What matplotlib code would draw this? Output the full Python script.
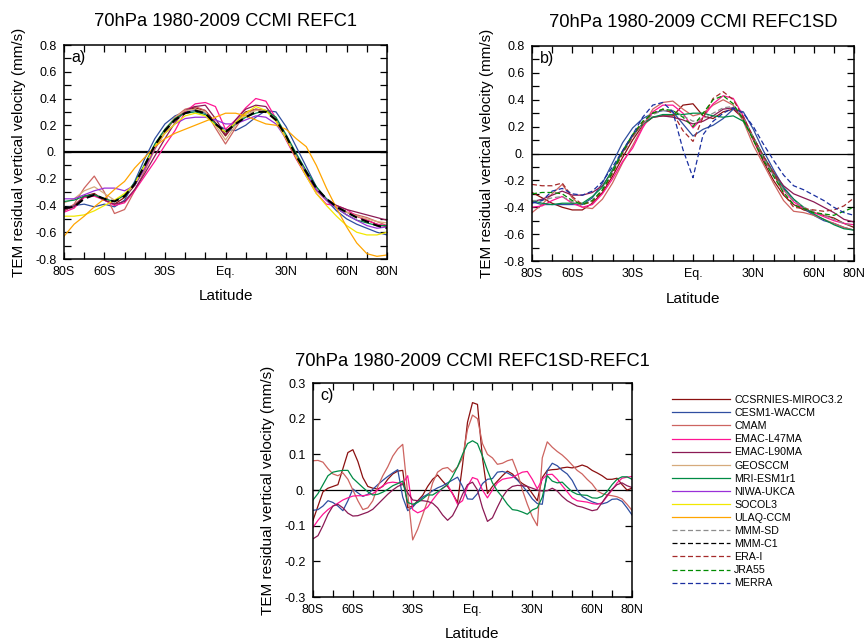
import numpy as np
import matplotlib
matplotlib.use('Agg')
import matplotlib.pyplot as plt
from matplotlib.ticker import MultipleLocator, FixedLocator, FixedFormatter
from matplotlib.lines import Line2D

plt.rcParams['font.family'] = ['Liberation Sans', 'DejaVu Sans']

# ---------------- data ----------------
lat5 = list(range(-80, 81, 5))                 # 5 degree grid (panels a, b)
lat25 = [v / 2 for v in range(-160, 161, 5)]   # 2.5 degree grid (panel c)

xtick_pos = [-80, -60, -30, 0, 30, 60, 80]
xtick_labels = ['80S', '60S', '30S', 'Eq.', '30N', '60N', '80N']
ytick_ab = [0.8, 0.6, 0.4, 0.2, 0.0, -0.2, -0.4, -0.6, -0.8]
ytick_ab_labels = ['0.8', '0.6', '0.4', '0.2', '0.', '-0.2', '-0.4', '-0.6', '-0.8']
ytick_c = [0.3, 0.2, 0.1, 0.0, -0.1, -0.2, -0.3]
ytick_c_labels = ['0.3', '0.2', '0.1', '0.', '-0.1', '-0.2', '-0.3']

titles = ['70hPa 1980-2009 CCMI REFC1', '70hPa 1980-2009 CCMI REFC1SD',
          '70hPa 1980-2009 CCMI REFC1SD-REFC1']
panel_tags = ['a)', 'b)', 'c)']
ylabel = 'TEM residual vertical velocity (mm/s)'
xlabel = 'Latitude'

legend_names = ['CCSRNIES-MIROC3.2', 'CESM1-WACCM', 'CMAM', 'EMAC-L47MA', 'EMAC-L90MA',
                'GEOSCCM', 'MRI-ESM1r1', 'NIWA-UKCA', 'SOCOL3', 'ULAQ-CCM',
                'MMM-SD', 'MMM-C1', 'ERA-I', 'JRA55', 'MERRA']

# Panel a: REFC1 (5 deg grid, 80S..80N)
a_ccsrnies = [-0.44, -0.40, -0.33, -0.31, -0.36, -0.39, -0.34, -0.25, -0.12,
              0.03, 0.15, 0.25, 0.31, 0.33, 0.31, 0.22, 0.12,
              0.22, 0.30, 0.32, 0.31, 0.24, 0.10, -0.04, -0.17,
              -0.28, -0.36, -0.41, -0.45, -0.48, -0.51, -0.54, -0.56]
a_cesm = [-0.42, -0.40, -0.39, -0.41, -0.39, -0.41, -0.36, -0.22, -0.05,
          0.10, 0.21, 0.27, 0.30, 0.31, 0.29, 0.21, 0.17,
          0.16, 0.20, 0.26, 0.31, 0.30, 0.19, 0.04, -0.11,
          -0.26, -0.36, -0.44, -0.50, -0.54, -0.57, -0.60, -0.62]
a_cmam = [-0.44, -0.39, -0.27, -0.18, -0.30, -0.46, -0.43, -0.29, -0.14,
          0.02, 0.15, 0.26, 0.32, 0.34, 0.31, 0.18, 0.06,
          0.18, 0.29, 0.32, 0.31, 0.24, 0.10, -0.05, -0.18,
          -0.29, -0.36, -0.41, -0.45, -0.47, -0.49, -0.52, -0.55]
a_emac47 = [-0.45, -0.42, -0.34, -0.33, -0.36, -0.40, -0.38, -0.29, -0.18,
            -0.07, 0.05, 0.16, 0.30, 0.36, 0.37, 0.34, 0.17,
            0.24, 0.33, 0.40, 0.38, 0.25, 0.09, -0.05, -0.18,
            -0.31, -0.39, -0.40, -0.43, -0.48, -0.51, -0.54, -0.55]
a_emac90 = [-0.43, -0.41, -0.33, -0.32, -0.36, -0.39, -0.37, -0.28, -0.16,
            -0.03, 0.10, 0.22, 0.31, 0.34, 0.35, 0.25, 0.13,
            0.24, 0.32, 0.35, 0.34, 0.24, 0.10, -0.04, -0.17,
            -0.28, -0.35, -0.40, -0.43, -0.45, -0.47, -0.49, -0.51]
a_geos = [-0.38, -0.35, -0.29, -0.26, -0.31, -0.36, -0.33, -0.24, -0.10,
          0.05, 0.17, 0.26, 0.31, 0.32, 0.30, 0.20, 0.09,
          0.20, 0.28, 0.31, 0.31, 0.25, 0.12, -0.02, -0.15,
          -0.27, -0.35, -0.41, -0.45, -0.48, -0.50, -0.52, -0.53]
a_mri = [-0.37, -0.36, -0.33, -0.32, -0.35, -0.37, -0.32, -0.23, -0.09,
         0.06, 0.17, 0.25, 0.29, 0.30, 0.28, 0.21, 0.15,
         0.21, 0.26, 0.29, 0.31, 0.26, 0.13, -0.01, -0.14,
         -0.26, -0.35, -0.42, -0.47, -0.51, -0.53, -0.55, -0.55]
a_niwa = [-0.35, -0.35, -0.32, -0.29, -0.27, -0.27, -0.29, -0.25, -0.12,
          0.03, 0.14, 0.21, 0.25, 0.26, 0.26, 0.24, 0.21,
          0.21, 0.24, 0.27, 0.26, 0.21, 0.10, -0.03, -0.16,
          -0.28, -0.36, -0.42, -0.47, -0.51, -0.55, -0.57, -0.56]
a_socol = [-0.48, -0.48, -0.47, -0.44, -0.40, -0.36, -0.31, -0.24, -0.10,
           0.04, 0.14, 0.21, 0.27, 0.29, 0.27, 0.20, 0.15,
           0.22, 0.29, 0.34, 0.31, 0.23, 0.10, -0.04, -0.18,
           -0.31, -0.40, -0.48, -0.55, -0.60, -0.62, -0.62, -0.60]
a_ulaq = [-0.63, -0.54, -0.48, -0.41, -0.35, -0.28, -0.22, -0.12, -0.04,
          0.04, 0.10, 0.14, 0.17, 0.20, 0.23, 0.26, 0.29,
          0.29, 0.27, 0.24, 0.21, 0.20, 0.17, 0.10, 0.04,
          -0.10, -0.27, -0.42, -0.56, -0.68, -0.76, -0.78, -0.77]
a_mmm_c1 = [-0.42, -0.41, -0.35, -0.32, -0.35, -0.37, -0.33, -0.24, -0.10,
            0.05, 0.16, 0.24, 0.29, 0.31, 0.29, 0.21, 0.15,
            0.21, 0.26, 0.30, 0.30, 0.24, 0.12, -0.03, -0.15,
            -0.27, -0.35, -0.41, -0.45, -0.49, -0.52, -0.55, -0.57]

# Panel b: REFC1SD (5 deg grid)
b_ccsrnies = [-0.29, -0.33, -0.37, -0.40, -0.42, -0.42, -0.37, -0.29, -0.17,
              -0.03, 0.10, 0.21, 0.27, 0.28, 0.28, 0.36, 0.37,
              0.28, 0.26, 0.31, 0.33, 0.26, 0.10, -0.06, -0.20,
              -0.31, -0.38, -0.42, -0.44, -0.46, -0.48, -0.52, -0.55]
b_cesm = [-0.36, -0.38, -0.38, -0.38, -0.38, -0.38, -0.33, -0.22, -0.07,
          0.08, 0.19, 0.26, 0.30, 0.32, 0.31, 0.22, 0.13,
          0.18, 0.21, 0.26, 0.33, 0.31, 0.18, 0.02, -0.12,
          -0.25, -0.34, -0.41, -0.46, -0.50, -0.52, -0.55, -0.57]
b_cmam = [-0.44, -0.38, -0.30, -0.23, -0.33, -0.40, -0.41, -0.34, -0.22,
          -0.07, 0.06, 0.20, 0.33, 0.38, 0.39, 0.33, 0.28,
          0.30, 0.36, 0.40, 0.36, 0.24, 0.06, -0.08, -0.22,
          -0.35, -0.43, -0.44, -0.46, -0.49, -0.52, -0.55, -0.57]
b_emac47 = [-0.40, -0.39, -0.35, -0.32, -0.37, -0.40, -0.38, -0.30, -0.19,
            -0.06, 0.04, 0.19, 0.31, 0.36, 0.36, 0.30, 0.19,
            0.27, 0.37, 0.43, 0.41, 0.28, 0.11, -0.04, -0.16,
            -0.27, -0.36, -0.41, -0.44, -0.47, -0.50, -0.52, -0.53]
b_emac90 = [-0.36, -0.34, -0.31, -0.28, -0.31, -0.31, -0.29, -0.24, -0.13,
            0.01, 0.13, 0.22, 0.27, 0.28, 0.27, 0.25, 0.22,
            0.24, 0.28, 0.33, 0.34, 0.27, 0.12, -0.02, -0.14,
            -0.24, -0.30, -0.33, -0.36, -0.40, -0.44, -0.49, -0.51]
b_mri = [-0.35, -0.37, -0.38, -0.37, -0.37, -0.37, -0.32, -0.25, -0.12,
         0.02, 0.14, 0.22, 0.27, 0.29, 0.29, 0.29, 0.30,
         0.30, 0.28, 0.27, 0.28, 0.24, 0.12, -0.02, -0.15,
         -0.26, -0.34, -0.40, -0.45, -0.49, -0.53, -0.56, -0.57]
b_mmm_sd = [-0.35, -0.35, -0.33, -0.32, -0.36, -0.38, -0.35, -0.27, -0.14,
            0.00, 0.12, 0.22, 0.29, 0.32, 0.32, 0.28, 0.24,
            0.26, 0.30, 0.34, 0.35, 0.27, 0.12, -0.03, -0.16,
            -0.27, -0.35, -0.40, -0.43, -0.46, -0.49, -0.52, -0.54]
b_erai = [-0.23, -0.24, -0.24, -0.22, -0.32, -0.38, -0.36, -0.28, -0.15,
          0.00, 0.13, 0.23, 0.30, 0.33, 0.30, 0.17, 0.09,
          0.27, 0.41, 0.46, 0.40, 0.27, 0.12, -0.02, -0.14,
          -0.30, -0.40, -0.41, -0.42, -0.43, -0.42, -0.39, -0.33]
b_jra55 = [-0.30, -0.29, -0.29, -0.30, -0.35, -0.38, -0.35, -0.27, -0.14,
           0.01, 0.14, 0.24, 0.30, 0.33, 0.32, 0.27, 0.20,
           0.30, 0.40, 0.43, 0.37, 0.25, 0.10, -0.05, -0.17,
           -0.29, -0.38, -0.41, -0.44, -0.45, -0.46, -0.43, -0.40]
b_merra = [-0.37, -0.35, -0.28, -0.26, -0.30, -0.31, -0.28, -0.21, -0.10,
           0.02, 0.14, 0.27, 0.36, 0.38, 0.31, 0.03, -0.18,
           0.14, 0.24, 0.30, 0.34, 0.30, 0.20, 0.07, -0.05,
           -0.16, -0.24, -0.27, -0.31, -0.35, -0.40, -0.44, -0.46]

# Panel c: REFC1SD - REFC1 (2.5 deg grid)
c_ccsrnies = [-0.085, -0.045, -0.005, 0.005, 0.010, 0.015, 0.060, 0.105, 0.113, 0.080,
              0.035, 0.010, 0.005, 0.003, 0.010, 0.030, 0.045, 0.053, 0.055, -0.050,
              -0.045, -0.030, -0.015, 0.010, 0.030, 0.042, 0.025, 0.010, -0.010, -0.035,
              0.070, 0.190, 0.245,
              0.240, 0.090, -0.010, 0.010, 0.025, 0.040, 0.053, 0.045, 0.030, 0.018,
              0.010, -0.010, -0.030, 0.035, 0.055, 0.057, 0.058, 0.062, 0.064, 0.062,
              0.065, 0.070, 0.065, 0.055, 0.048, 0.040, 0.030, 0.030, 0.033, 0.015,
              0.000, 0.005]
c_cesm = [-0.057, -0.055, -0.045, -0.030, -0.035, -0.045, -0.058, -0.030, 0.003, -0.008,
          -0.018, -0.012, 0.002, 0.015, 0.027, 0.038, 0.048, 0.057, -0.020, -0.058,
          -0.048, -0.032, -0.020, -0.012, -0.002, 0.006, 0.012, 0.020, 0.028, 0.036,
          0.010, -0.025, -0.026,
          -0.010, 0.018, 0.030, 0.032, 0.050, 0.052, 0.048, 0.040, 0.028, 0.012,
          -0.005, -0.025, -0.038, -0.040, 0.055, 0.075, 0.068, 0.055, 0.045, 0.027,
          0.000, -0.018, -0.026, -0.033, -0.038, -0.039, -0.035, -0.026, -0.025, -0.032,
          -0.050, -0.070]
c_cmam = [0.082, 0.083, 0.078, 0.060, 0.045, 0.040, 0.048, 0.030, 0.000, -0.030,
          -0.055, -0.050, -0.030, 0.010, 0.040, 0.065, 0.095, 0.115, 0.128, -0.010,
          -0.140, -0.110, -0.070, -0.030, 0.020, 0.050, 0.060, 0.063, 0.050, 0.065,
          0.090, 0.170, 0.210,
          0.200, 0.130, 0.100, 0.090, 0.072, 0.075, 0.082, 0.086, 0.050, 0.000,
          -0.040, -0.075, -0.100, 0.090, 0.135, 0.120, 0.108, 0.098, 0.085, 0.070,
          0.055, 0.045, 0.030, 0.017, -0.002, -0.010, -0.014, -0.016, -0.019, -0.025,
          -0.040, -0.057]
c_emac47 = [-0.105, -0.085, -0.068, -0.055, -0.045, -0.037, -0.028, -0.022, -0.017, -0.016,
            -0.016, -0.014, -0.010, 0.000, 0.012, 0.020, 0.022, 0.020, 0.018, 0.040,
            -0.055, -0.064, -0.058, -0.048, -0.028, -0.010, 0.005, 0.014, -0.010, -0.040,
            -0.030, 0.010, 0.035,
            0.030, 0.000, -0.022, 0.000, 0.020, 0.030, 0.033, 0.035, 0.043, 0.050,
            0.052, 0.030, 0.003, 0.030, 0.043, 0.044, 0.030, 0.012, -0.005, -0.022,
            -0.030, -0.032, -0.034, -0.038, -0.040, -0.036, -0.018, 0.000, 0.020, 0.033,
            0.036, 0.038]
c_emac90 = [-0.137, -0.128, -0.100, -0.068, -0.045, -0.040, -0.050, -0.065, -0.073, -0.072,
            -0.067, -0.062, -0.054, -0.040, -0.026, -0.012, 0.000, 0.010, 0.016, -0.008,
            -0.028, -0.030, -0.030, -0.032, -0.037, -0.050, -0.070, -0.085, -0.072, -0.045,
            -0.012, 0.015, 0.022,
            0.000, -0.050, -0.088, -0.078, -0.048, -0.020, 0.000, 0.010, 0.013, 0.012,
            0.010, 0.005, 0.000, -0.003, -0.002, 0.005, -0.003, -0.018, -0.030, -0.038,
            -0.045, -0.048, -0.053, -0.058, -0.055, -0.035, -0.015, 0.002, 0.015, 0.020,
            0.012, 0.007]
c_mri = [-0.028, -0.010, 0.015, 0.040, 0.050, 0.053, 0.055, 0.055, 0.033, 0.020,
         0.007, -0.005, -0.014, -0.012, -0.006, 0.002, 0.012, 0.018, 0.025, -0.035,
         -0.040, -0.035, -0.025, -0.014, -0.014, -0.005, 0.005, 0.015, 0.038, 0.065,
         0.100, 0.130, 0.138,
         0.130, 0.095, 0.055, 0.020, -0.003, -0.020, -0.040, -0.055, -0.057, -0.062,
         -0.068, -0.056, -0.050, -0.020, 0.040, 0.025, 0.020, 0.022, 0.008, -0.005,
         -0.012, -0.014, -0.015, -0.022, -0.023, -0.018, -0.004, 0.015, 0.030, 0.037,
         0.037, 0.030]

# ---------------- styles ----------------
colors = {
    'CCSRNIES-MIROC3.2': '#8b1010', 'CESM1-WACCM': '#2f4ea0', 'CMAM': '#cd6460',
    'EMAC-L47MA': '#ff1493', 'EMAC-L90MA': '#8b1a55', 'GEOSCCM': '#d6aa7c',
    'MRI-ESM1r1': '#008b45', 'NIWA-UKCA': '#9a30d8', 'SOCOL3': '#f2e800',
    'ULAQ-CCM': '#ffa500', 'MMM-SD': '#8c8c8c', 'MMM-C1': '#000000',
    'ERA-I': '#a52a2a', 'JRA55': '#008c00', 'MERRA': '#1a2fa0'}
dashed = {'MMM-SD', 'MMM-C1', 'ERA-I', 'JRA55', 'MERRA'}
LW = 0.9


def style(name, lw=LW):
    ls = (0, (4, 2.2)) if name in dashed else '-'
    return dict(color=colors[name], lw=lw, ls=ls)


panel_a = [('CCSRNIES-MIROC3.2', a_ccsrnies), ('CESM1-WACCM', a_cesm), ('CMAM', a_cmam),
           ('EMAC-L47MA', a_emac47), ('EMAC-L90MA', a_emac90), ('GEOSCCM', a_geos),
           ('MRI-ESM1r1', a_mri), ('NIWA-UKCA', a_niwa), ('SOCOL3', a_socol),
           ('ULAQ-CCM', a_ulaq), ('MMM-C1', a_mmm_c1)]
panel_b = [('CCSRNIES-MIROC3.2', b_ccsrnies), ('CESM1-WACCM', b_cesm), ('CMAM', b_cmam),
           ('EMAC-L47MA', b_emac47), ('EMAC-L90MA', b_emac90), ('MRI-ESM1r1', b_mri),
           ('MMM-SD', b_mmm_sd), ('ERA-I', b_erai), ('JRA55', b_jra55), ('MERRA', b_merra)]
panel_c = [('CCSRNIES-MIROC3.2', c_ccsrnies), ('CESM1-WACCM', c_cesm), ('CMAM', c_cmam),
           ('EMAC-L47MA', c_emac47), ('EMAC-L90MA', c_emac90), ('MRI-ESM1r1', c_mri)]

W, H = 865, 642
fig = plt.figure(figsize=(W / 100, H / 100), dpi=100)


def px_axes(l, r, t, b):
    return fig.add_axes([l / W, 1 - b / H, (r - l) / W, (b - t) / H])


ax_a = px_axes(64, 387, 45, 259)
ax_b = px_axes(532, 854, 46, 261)
ax_c = px_axes(313, 632, 383, 597)


def setup(ax, yt, ytl, ylim, yminor, title, tag, zero_lw, title_pad):
    ax.set_xlim(-80, 80)
    ax.set_ylim(*ylim)
    ax.axhline(0, color='black', lw=zero_lw, zorder=1)
    ax.xaxis.set_major_locator(FixedLocator(xtick_pos))
    ax.xaxis.set_major_formatter(FixedFormatter(xtick_labels))
    ax.xaxis.set_minor_locator(MultipleLocator(10))
    ax.yaxis.set_major_locator(FixedLocator(yt))
    ax.yaxis.set_major_formatter(FixedFormatter(ytl))
    ax.yaxis.set_minor_locator(MultipleLocator(yminor))
    ax.tick_params(which='both', direction='in', top=True, right=True,
                   length=4.8, width=0.9, labelsize=9)
    ax.tick_params(axis='x', which='both', pad=5)
    ax.tick_params(axis='y', which='both', pad=5)
    for s in ax.spines.values():
        s.set_linewidth(1.1)
    ax.set_title(title, fontsize=13.2, pad=title_pad)
    ax.set_xlabel(xlabel, fontsize=11)
    ax.set_ylabel(ylabel, fontsize=11)
    ax.xaxis.set_label_coords(0.5, -0.142)
    ax.yaxis.set_label_coords(-0.119, 0.5)
    ax.text(0.024, 0.975, tag, transform=ax.transAxes, ha='left', va='top', fontsize=11.5)


setup(ax_a, ytick_ab, ytick_ab_labels, (-0.8, 0.8), 0.1, titles[0], panel_tags[0], 1.6, 13.5)
setup(ax_b, ytick_ab, ytick_ab_labels, (-0.8, 0.8), 0.1, titles[1], panel_tags[1], 0.9, 13.5)
setup(ax_c, ytick_c, ytick_c_labels, (-0.3, 0.3), 0.1, titles[2], panel_tags[2], 0.9, 12.5)

handles = {}
for name, vals in panel_a:
    lw = 1.5 if name == 'MMM-C1' else LW
    ax_a.plot(lat5, vals, zorder=3 if name == 'MMM-C1' else 2, **style(name, lw))
    handles[name] = Line2D([], [], **style(name))
for name, vals in panel_b:
    ax_b.plot(lat5, vals, zorder=2, **style(name))
    handles[name] = Line2D([], [], **style(name))
for name, vals in panel_c:
    ax_c.plot(lat25, vals, zorder=2, **style(name))

fig.legend([handles[n] for n in legend_names], legend_names,
           loc='upper left', bbox_to_anchor=(672 / W, 1 - 395 / H),
           frameon=False, fontsize=7.7, handlelength=5.4, handletextpad=0.4,
           labelspacing=0.29, borderpad=0, borderaxespad=0)

fig.savefig('out.png', dpi=100)
